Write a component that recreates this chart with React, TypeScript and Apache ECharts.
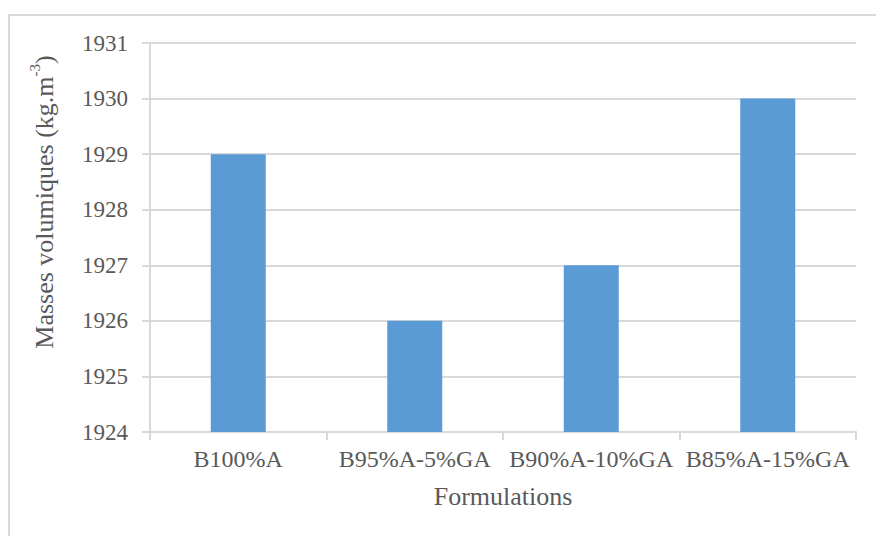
import React, { useEffect, useRef } from "react";
import * as echarts from "echarts";

const categories = ["B100%A", "B95%A-5%GA", "B90%A-10%GA", "B85%A-15%GA"];
const values = [1929, 1926, 1927, 1930];
const yMin = 1924;
const yMax = 1931;
const yTitle = "Masses volumiques (kg.m";
const yTitleSup = "-3";
const xTitle = "Formulations";

const FONT = "Liberation Serif, Times New Roman, serif";
const TEXT = "#595959";
const LINE = "#d9d9d9";

export default function App() {
  const ref = useRef<HTMLDivElement>(null);
  useEffect(() => {
    if (!ref.current) return;
    const chart = echarts.init(ref.current, undefined, { renderer: "svg" });
    chart.setOption({
      animation: false,
      backgroundColor: "#ffffff",
      textStyle: { fontFamily: FONT },
      grid: { left: 150, right: 20, top: 43, bottom: 104, containLabel: false },
      xAxis: {
        type: "category",
        data: categories,
        axisLine: { show: true, lineStyle: { color: LINE, width: 2 } },
        axisTick: { show: true, alignWithLabel: false, length: 8, lineStyle: { color: LINE, width: 2 } },
        axisLabel: { color: TEXT, fontFamily: FONT, fontSize: 24, margin: 15, interval: 0 },
        splitLine: { show: false },
      },
      yAxis: {
        type: "value",
        min: yMin,
        max: yMax,
        interval: 1,
        axisLine: { show: true, lineStyle: { color: LINE, width: 2 } },
        axisTick: { show: true, length: 8, lineStyle: { color: LINE, width: 2 } },
        axisLabel: {
          color: TEXT,
          fontFamily: FONT,
          fontSize: 23,
          margin: 22,
          formatter: (v: number) => String(v),
        },
        splitLine: { show: true, lineStyle: { color: LINE, width: 2 } },
      },
      series: [
        {
          type: "bar",
          data: values,
          barWidth: 55,
          itemStyle: { color: "#5B9BD5" },
        },
      ],
      graphic: [
        {
          type: "rect",
          shape: { x: 9, y: 15, width: 900, height: 600 },
          style: { fill: "none", stroke: LINE, lineWidth: 2 },
          silent: true,
          z: -10,
        },
        {
          type: "text",
          x: 42,
          y: 202,
          rotation: Math.PI / 2,
          style: {
            text: "{a|" + yTitle + "}{s|" + yTitleSup + "}{a|)}",
            align: "center",
            verticalAlign: "middle",
            rich: {
              a: { fontFamily: FONT, fontSize: 26, fill: TEXT, lineHeight: 30, verticalAlign: "bottom" },
              s: { fontFamily: FONT, fontSize: 15, fill: TEXT, lineHeight: 30, verticalAlign: "top", padding: [0, 0, 10, 0] },
            },
          },
        },
        {
          type: "text",
          x: 503,
          y: 496,
          style: {
            text: xTitle,
            align: "center",
            verticalAlign: "middle",
            fontFamily: FONT,
            fontSize: 26,
            fill: TEXT,
          },
        },
      ],
    });
    return () => chart.dispose();
  }, []);
  return (
    <div
      ref={ref}
      style={{ position: "absolute", left: 0, top: 0, width: 876, height: 536 }}
    />
  );
}
